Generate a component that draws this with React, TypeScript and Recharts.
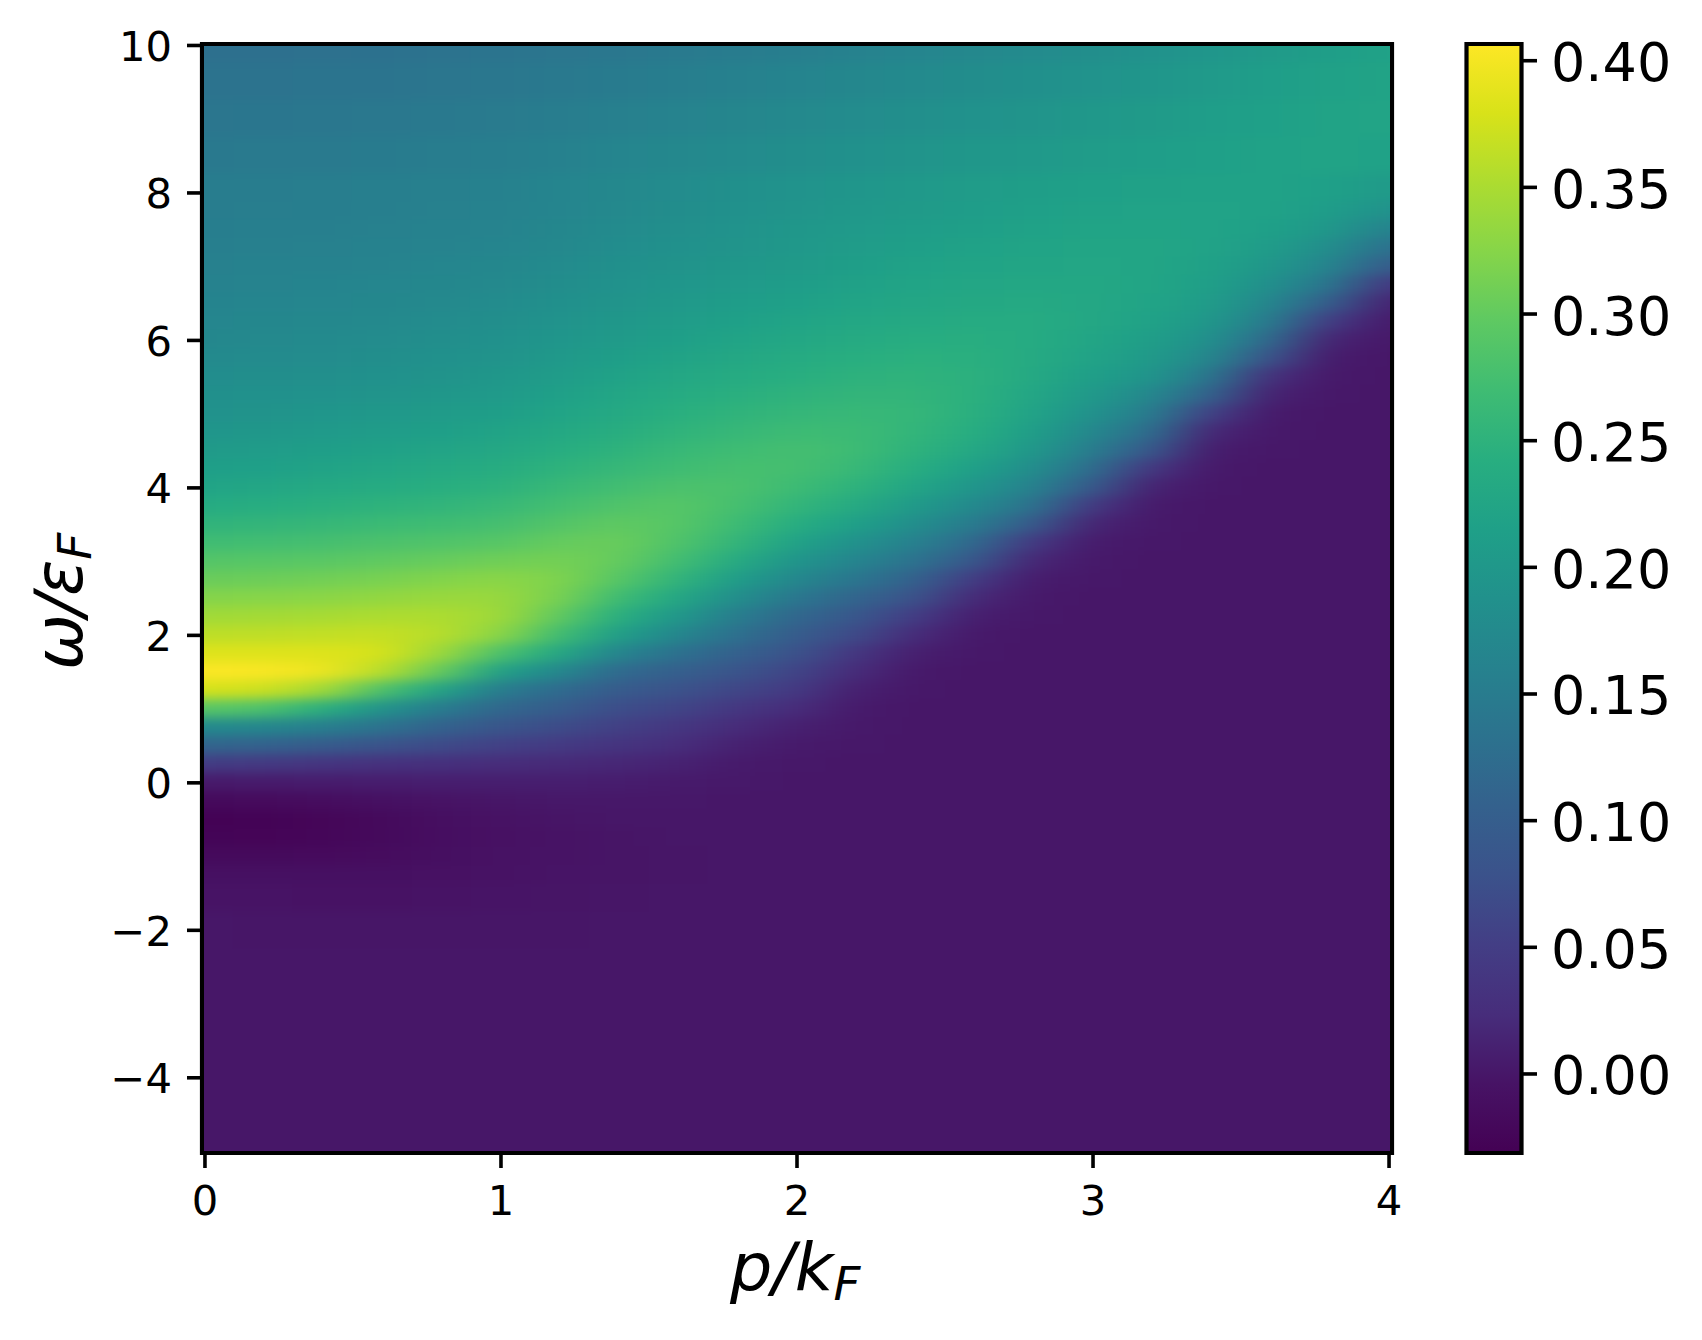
import { BarChart, Bar, ComposedChart, ReferenceArea, Scatter, XAxis, YAxis } from "recharts";

// p/kF sample positions (columns of the map)
const pValues = [0, 0.2, 0.4, 0.6, 0.8, 1, 1.2, 1.4, 1.6, 1.8, 2, 2.2, 2.4, 2.6, 2.8, 3, 3.2, 3.4, 3.6, 3.8, 4];

// omega/eF sample positions (rows of the map), top to bottom
const omegaValues = [
  10, 9.5, 9, 8.5, 8, 7.75, 7.5, 7.25, 7, 6.75, 6.5, 6.25, 6, 5.75, 5.5, 5.25, 5, 4.75, 4.5, 4.25, 4, 3.75, 3.5, 3.25,
  3, 2.75, 2.5, 2.25, 2, 1.75, 1.5, 1.25, 1, 0.75, 0.5, 0.25, 0, -0.25, -0.5, -0.75, -1, -1.25, -1.5, -2, -2.5, -3,
  -3.5, -4, -4.5, -5,
];

// values, one row per omega; cells left out on the right are 0
const heatRows = [
  [.130, .130, .131, .132, .134, .136, .139, .142, .146, .150, .154, .160, .166, .172, .177, .182, .189, .197, .205, .212, .218],
  [.134, .135, .136, .137, .139, .142, .145, .149, .154, .159, .164, .169, .175, .181, .186, .191, .197, .204, .211, .217, .221],
  [.139, .140, .141, .143, .145, .148, .152, .157, .163, .168, .174, .179, .184, .189, .194, .200, .205, .211, .216, .221, .223],
  [.145, .146, .147, .149, .151, .154, .159, .165, .171, .177, .183, .188, .193, .198, .202, .207, .211, .215, .218, .221, .218],
  [.151, .152, .153, .155, .157, .159, .165, .172, .179, .185, .191, .196, .202, .207, .212, .216, .217, .218, .218, .215, .205],
  [.152, .153, .154, .156, .158, .160, .166, .174, .181, .188, .194, .200, .205, .210, .215, .219, .220, .220, .218, .210, .190],
  [.154, .155, .156, .158, .160, .163, .169, .177, .184, .191, .198, .204, .209, .214, .218, .222, .222, .220, .215, .200, .160],
  [.156, .157, .158, .160, .163, .166, .172, .180, .188, .194, .201, .208, .213, .218, .222, .225, .224, .220, .208, .183, .130],
  [.158, .160, .161, .163, .167, .170, .177, .185, .192, .199, .205, .212, .218, .222, .225, .227, .224, .217, .198, .165, .095],
  [.161, .163, .164, .167, .170, .174, .181, .189, .197, .204, .210, .217, .222, .226, .228, .228, .224, .213, .185, .140, .040],
  [.164, .166, .167, .170, .174, .178, .186, .193, .202, .209, .215, .222, .227, .231, .232, .229, .222, .207, .170, .100, .012],
  [.167, .169, .171, .174, .178, .182, .191, .199, .208, .215, .222, .228, .233, .236, .236, .229, .218, .198, .150, .050, .004],
  [.170, .173, .175, .178, .182, .187, .196, .205, .214, .222, .228, .235, .240, .241, .236, .225, .212, .185, .120, .015, .001],
  [.175, .177, .179, .183, .187, .192, .202, .212, .221, .229, .236, .242, .246, .245, .235, .220, .205, .170, .080, .005],
  [.180, .182, .184, .188, .192, .198, .208, .219, .229, .237, .243, .249, .251, .247, .232, .212, .195, .140, .030, .002],
  [.185, .187, .190, .194, .199, .204, .215, .226, .236, .245, .251, .255, .255, .246, .226, .202, .172, .108, .012, .001],
  [.190, .192, .196, .200, .206, .212, .222, .233, .244, .252, .258, .261, .258, .245, .220, .190, .150, .055, .004],
  [.197, .199, .204, .208, .214, .221, .231, .241, .252, .260, .267, .266, .256, .240, .212, .172, .125, .017, .002],
  [.205, .207, .212, .217, .223, .229, .240, .250, .261, .269, .275, .268, .250, .230, .200, .152, .090, .006, .001],
  [.213, .216, .221, .227, .232, .238, .250, .260, .270, .276, .275, .262, .240, .215, .182, .125, .040, .002],
  [.222, .226, .232, .237, .242, .248, .261, .272, .281, .280, .268, .250, .225, .197, .160, .093, .012, .001],
  [.236, .240, .245, .250, .254, .261, .273, .285, .290, .276, .256, .235, .205, .175, .135, .045, .004],
  [.252, .255, .259, .265, .269, .275, .287, .298, .290, .268, .240, .215, .182, .150, .095, .015, .002],
  [.270, .272, .275, .281, .285, .290, .302, .305, .284, .255, .219, .190, .158, .120, .045, .005, .001],
  [.288, .290, .293, .298, .303, .309, .312, .302, .272, .235, .195, .165, .135, .090, .017, .002],
  [.305, .307, .310, .315, .322, .327, .320, .290, .253, .210, .170, .140, .108, .048, .006, .001],
  [.323, .325, .328, .333, .338, .338, .315, .268, .228, .182, .142, .112, .080, .020, .002],
  [.343, .345, .348, .352, .352, .342, .298, .242, .200, .152, .115, .090, .050, .008, .001],
  [.362, .363, .365, .367, .358, .328, .270, .212, .170, .130, .098, .068, .022, .003],
  [.384, .384, .384, .378, .340, .280, .228, .165, .132, .105, .080, .040, .009, .001],
  [.406, .404, .395, .360, .300, .215, .172, .120, .103, .083, .060, .022, .003],
  [.378, .372, .345, .280, .220, .150, .122, .095, .080, .062, .045, .010, .001],
  [.293, .283, .245, .192, .150, .115, .098, .072, .060, .040, .024, .004],
  [.175, .170, .155, .135, .108, .085, .070, .053, .040, .022, .010, .002],
  [.113, .108, .097, .082, .068, .055, .045, .035, .025, .011, .004, .001],
  [.048, .044, .037, .032, .028, .024, .020, .017, .012, .004, .001],
  [.004, .005, .006, .007, .008, .008, .008, .007, .004, .002],
  [-.018, -.016, -.013, -.009, -.004, -.001, .001, .001, .001],
  [-.030, -.028, -.024, -.018, -.010, -.005, -.002],
  [-.027, -.026, -.023, -.018, -.011, -.007, -.004, -.002],
  [-.018, -.018, -.017, -.015, -.010, -.006, -.004, -.002, -.001],
  [-.009, -.009, -.009, -.009, -.007, -.005, -.003, -.002, -.001],
  [-.004, -.004, -.005, -.005, -.004, -.003, -.002, -.001],
  [0, -.001, -.001, -.001, -.001, -.001, -.001],
  [],
  [],
  [],
  [],
  [],
  [],
];

const pTicks = [0, 1, 2, 3, 4];
const omegaTicks = [-4, -2, 0, 2, 4, 6, 8, 10];
const colorbarTicks = [0, 0.05, 0.1, 0.15, 0.2, 0.25, 0.3, 0.35, 0.4];

const pDomain = [-0.01, 4.01];
const omegaDomain = [-5.02, 10.02];
const valueDomain = [-0.0312, 0.4066];

const viridis = [
  "#440154", "#471365", "#472d7b", "#433e85", "#3b528b", "#34618d", "#2c728e", "#26828e", "#21918c",
  "#1fa088", "#28ae80", "#3fbc73", "#5ec962", "#86d549", "#addc30", "#d8e219", "#fde725",
];

const FONT = "'DejaVu Sans', sans-serif";
const PLOT = { left: 202, top: 44, right: 1392, bottom: 1153 };
const FRAME = 4.2;
const pxPerP = (PLOT.right - PLOT.left) / (pDomain[1] - pDomain[0]);
const pxPerOmega = (PLOT.bottom - PLOT.top) / (omegaDomain[1] - omegaDomain[0]);

function hexToRgb(hex: string) {
  return [1, 3, 5].map((i) => parseInt(hex.slice(i, i + 2), 16));
}

function colorFor(value: number) {
  const t = Math.min(1, Math.max(0, (value - valueDomain[0]) / (valueDomain[1] - valueDomain[0])));
  const pos = t * (viridis.length - 1);
  const i = Math.min(viridis.length - 2, Math.floor(pos));
  const a = hexToRgb(viridis[i]);
  const b = hexToRgb(viridis[i + 1]);
  const c = a.map((v, k) => Math.round(v + (b[k] - v) * (pos - i)));
  return `rgb(${c[0]},${c[1]},${c[2]})`;
}

const cells = omegaValues.flatMap((omega, r) =>
  pValues.map((p, c) => ({
    p,
    omega,
    value: heatRows[r][c] ?? 0,
    first: c === 0,
    last: c === pValues.length - 1,
    up: r === 0 ? 1 : (omegaValues[r - 1] - omega) / 2,
    down: r === omegaValues.length - 1 ? 1 : (omega - omegaValues[r + 1]) / 2,
  })),
);

// one map cell; it spills over the plot edge so the blur does not fade there
function HeatCell(props: any) {
  const { cx, cy, payload } = props;
  const half = (pxPerP * 0.2) / 2;
  const x0 = cx - (payload.first ? 80 : half + 1);
  const x1 = cx + (payload.last ? 80 : half + 1);
  const y0 = cy - payload.up * pxPerOmega - 1;
  const y1 = cy + payload.down * pxPerOmega + 1;
  return <rect x={x0} y={y0} width={x1 - x0} height={y1 - y0} fill={colorFor(payload.value)} />;
}

function XTick({ x, y, payload }: any) {
  return (
    <text x={x} y={y + 47} textAnchor="middle" fontFamily={FONT} fontSize={41.7} fill="#000">
      {payload.value}
    </text>
  );
}

function YTick({ x, y, payload }: any) {
  return (
    <text x={x - 15} y={y + 15.5} textAnchor="end" fontFamily={FONT} fontSize={41.7} fill="#000">
      {String(payload.value).replace("-", "\u2212")}
    </text>
  );
}

function ColorbarTick({ x, y, payload }: any) {
  return (
    <text x={x + 14} y={y + 20.5} textAnchor="start" fontFamily={FONT} fontSize={54} fill="#000">
      {payload.value.toFixed(2)}
    </text>
  );
}

function XTitle() {
  return (
    <text x={730} y={1290} fontFamily={FONT} fontStyle="italic" fontSize={66.7} fill="#000">
      <tspan>p</tspan>
      <tspan>/</tspan>
      <tspan>k</tspan>
      <tspan fontSize={46.7} dy={10}>F</tspan>
    </text>
  );
}

function YTitle() {
  return (
    <text transform="translate(81.5 670) rotate(-90)" fontFamily={FONT} fontStyle="italic" fontSize={66.7} fill="#000">
      <tspan>ω</tspan>
      <tspan dx={-2}>/</tspan>
      <tspan dx={-2}>ε</tspan>
      <tspan fontSize={46.7} dy={9}>F</tspan>
    </text>
  );
}

const tickStyle = { stroke: "#000", strokeWidth: 3.6 };

export default function App() {
  return (
    <div style={{ position: "absolute", left: 0, top: 0, width: 1702, height: 1340, background: "#fff" }}>
      <style>{`.heat-map { filter: url(#heatBlur); clip-path: url(#plotClip); }`}</style>
      <div style={{ position: "absolute", left: 0, top: 0 }}>
        <ComposedChart
          width={1702}
          height={1340}
          data={cells}
          margin={{ left: 32, top: PLOT.top, right: 1702 - PLOT.right, bottom: 127 }}
        >
          <defs>
            <filter id="heatBlur" filterUnits="userSpaceOnUse" x={0} y={0} width={1702} height={1340} colorInterpolationFilters="sRGB">
              <feGaussianBlur stdDeviation="26 6" />
            </filter>
            <clipPath id="plotClip" clipPathUnits="userSpaceOnUse">
              <rect
                x={PLOT.left + FRAME / 2}
                y={PLOT.top + FRAME / 2}
                width={PLOT.right - PLOT.left - FRAME}
                height={PLOT.bottom - PLOT.top - FRAME}
              />
            </clipPath>
          </defs>
          <XAxis
            type="number"
            dataKey="p"
            domain={pDomain}
            ticks={pTicks}
            interval={0}
            allowDataOverflow
            height={60}
            axisLine={false}
            tickSize={15}
            tickMargin={0}
            tickLine={tickStyle}
            tick={XTick}
            label={{ content: XTitle }}
          />
          <YAxis
            type="number"
            dataKey="omega"
            domain={omegaDomain}
            ticks={omegaTicks}
            interval={0}
            allowDataOverflow
            width={170}
            axisLine={false}
            tickSize={15}
            tickMargin={0}
            tickLine={tickStyle}
            tick={YTick}
            label={{ content: YTitle }}
          />
          <Scatter className="heat-map" data={cells} shape={HeatCell} isAnimationActive={false} />
          <ReferenceArea x1={pDomain[0]} x2={pDomain[1]} y1={omegaDomain[0]} y2={omegaDomain[1]} fill="none" stroke="#000" strokeWidth={FRAME} />
        </ComposedChart>
      </div>
      <div style={{ position: "absolute", left: 1400, top: 0 }}>
        <BarChart
          width={302}
          height={1340}
          data={[{ name: "colorbar", range: valueDomain }]}
          barCategoryGap={0}
          margin={{ left: 66.5, top: PLOT.top, right: 0.5, bottom: 1340 - PLOT.bottom }}
        >
          <defs>
            <linearGradient id="viridisBar" x1="0" y1="1" x2="0" y2="0">
              {viridis.map((c, i) => (
                <stop key={c} offset={i / (viridis.length - 1)} stopColor={c} />
              ))}
            </linearGradient>
          </defs>
          <XAxis dataKey="name" hide />
          <YAxis
            orientation="right"
            type="number"
            domain={valueDomain}
            ticks={colorbarTicks}
            interval={0}
            width={180}
            axisLine={false}
            tickSize={15.5}
            tickMargin={0}
            tickLine={tickStyle}
            tick={ColorbarTick}
          />
          <Bar dataKey="range" fill="url(#viridisBar)" stroke="#000" strokeWidth={FRAME} isAnimationActive={false} />
        </BarChart>
      </div>
    </div>
  );
}
